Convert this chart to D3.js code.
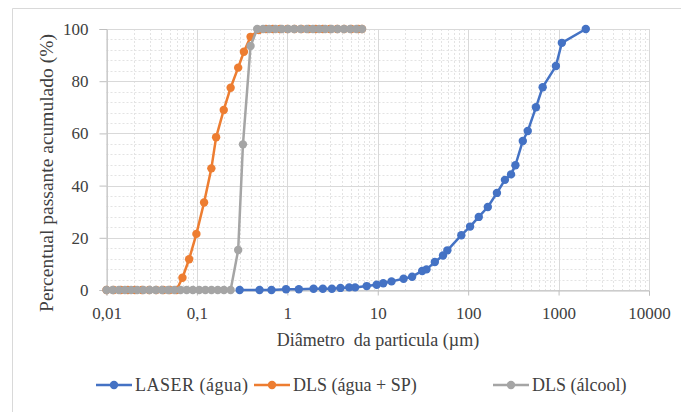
<!DOCTYPE html>
<html><head><meta charset="utf-8">
<script src="https://cdn.jsdelivr.net/npm/d3@7/dist/d3.min.js"></script>
<style>body{margin:0;background:#fff;}</style></head>
<body><svg id="c" width="681" height="412"></svg>
<script>
// LASER (água)
const laserX = [0.297,0.493,0.668,0.968,1.34,1.95,2.47,3.11,3.87,4.83,5.62,7.55,9.73,11.5,14.2,19.3,24.0,31.0,34.6,42.8,52.7,58.9,84.0,105,131,165,208,255,298,333,402,456,562,667,934,1087,2000];
const laserY = [0,0,0,0.3,0.3,0.5,0.5,0.5,0.8,1.0,1.0,1.5,2.0,2.6,3.3,4.3,5.1,7.3,7.9,10.7,13.2,15.2,21.0,24.3,28.0,31.8,37.2,42.2,44.3,47.8,57.1,60.9,70.0,77.7,85.8,94.7,100];
// DLS (água + SP)
const dlsSpX = [0.0100,0.0120,0.0144,0.0172,0.0206,0.0247,0.0296,0.0355,0.0425,0.0500,0.0594,0.0692,0.082,0.0987,0.120,0.1445,0.163,0.198,0.236,0.286,0.331,0.392,0.484,0.58,0.69,0.83,1.0,1.2,1.43,1.72,2.06,2.47,2.96,3.55,4.25,5.1,6.1,6.7];
const dlsSpY = [0,0,0,0,0,0,0,0,0,0,0,4.7,11.8,21.5,33.5,46.6,58.5,69.0,77.5,85.2,91.3,97.0,99.6,100,100,100,100,100,100,100,100,100,100,100,100,100,100,100];
// DLS (álcool)
const dlsAlcX = [0.0100,0.0117,0.0137,0.0160,0.0187,0.0219,0.0256,0.0300,0.0351,0.0411,0.0481,0.0563,0.0659,0.0771,0.0902,0.106,0.124,0.145,0.170,0.199,0.236,0.286,0.323,0.392,0.464,0.54,0.63,0.74,0.87,1.02,1.19,1.40,1.64,1.92,2.25,2.63,3.08,3.61,4.23,4.95,5.80,6.70];
const dlsAlcY = [0,0,0,0,0,0,0,0,0,0,0,0,0,0,0,0,0,0,0,0,0,15.3,55.8,93.5,100,100,100,100,100,100,100,100,100,100,100,100,100,100,100,100,100,100];

const xTicks = [0.01,0.1,1,10,100,1000,10000];
const xTickLabels = ["0,01","0,1","1","10","100","1000","10000"];
const yTicks = [0,20,40,60,80,100];

const seriesNames = ["LASER (água)","DLS (água + SP)","DLS (álcool)"];
const seriesColors = ["#4472C4","#ED7D31","#A5A5A5"];

const FONT = '"Liberation Serif"';
const TXT = "#404040";
const svg = d3.select("#c");
// outer frame
svg.append("path").attr("d","M12.5,412 V8.5 H681").attr("fill","none").attr("stroke","#d9d9d9").attr("stroke-width",1);

const L=106.5, R=649, T=29, B=290;
const x = d3.scaleLog().domain([0.01,10000]).range([L,R]);
const y = d3.scaleLinear().domain([0,100]).range([B,T]);

const g = svg.append("g");
// minor vertical grid
const minorX = [];
for (let d=0.01; d<10000; d*=10) for (let k=2;k<=9;k++) minorX.push(d*k);
g.selectAll(".mvx").data(minorX).enter().append("line")
 .attr("x1",d=>Math.round(x(d))+0.5).attr("x2",d=>Math.round(x(d))+0.5).attr("y1",T).attr("y2",B)
 .attr("stroke","#e3e3e3").attr("stroke-dasharray","2,2").attr("stroke-width",1);
// minor horizontal grid
const minorY = d3.range(0,100,4).filter(v=>v%20!==0);
g.selectAll(".mhy").data(minorY).enter().append("line")
 .attr("x1",L).attr("x2",R).attr("y1",d=>Math.round(y(d))+0.5).attr("y2",d=>Math.round(y(d))+0.5)
 .attr("stroke","#e3e3e3").attr("stroke-dasharray","2,2").attr("stroke-width",1);
// major grid
g.selectAll(".gx").data(xTicks).enter().append("line")
 .attr("x1",d=>Math.round(x(d))+0.5).attr("x2",d=>Math.round(x(d))+0.5).attr("y1",T).attr("y2",B)
 .attr("stroke","#d9d9d9");
g.selectAll(".gy").data(yTicks).enter().append("line")
 .attr("x1",L).attr("x2",R).attr("y1",d=>Math.round(y(d))+0.5).attr("y2",d=>Math.round(y(d))+0.5)
 .attr("stroke","#d9d9d9");

// axes
const xAxis = d3.axisBottom(x).tickValues(xTicks).tickFormat((d,i)=>xTickLabels[i]).tickSize(5).tickPadding(11);
const ax = svg.append("g").attr("transform",`translate(0,${B+0.5})`).call(xAxis);
ax.select(".domain").attr("stroke","#bfbfbf");
ax.selectAll(".tick line").attr("stroke","#bfbfbf");
ax.selectAll("text").style("font-family",FONT).attr("font-size",17).attr("fill",TXT);
const yAxis = d3.axisLeft(y).tickValues(yTicks).tickSize(7).tickPadding(11);
const ay = svg.append("g").attr("transform",`translate(${L},0)`).call(yAxis);
ay.select(".domain").attr("stroke","#bfbfbf");
ay.selectAll(".tick line").attr("stroke","#bfbfbf");
ay.selectAll("text").style("font-family",FONT).attr("font-size",17).attr("fill",TXT);

// series
const series = [
  {x:laserX,y:laserY},
  {x:dlsSpX,y:dlsSpY},
  {x:dlsAlcX,y:dlsAlcY}
];
const line = d3.line().x(d=>x(d[0])).y(d=>y(d[1]));
series.forEach((s,i)=>{
  const pts = s.x.map((v,j)=>[v,s.y[j]]);
  const sg = svg.append("g");
  sg.append("path").datum(pts).attr("d",line).attr("fill","none").attr("stroke",seriesColors[i]).attr("stroke-width",2.5).attr("stroke-linejoin","round");
  sg.selectAll("circle").data(pts).enter().append("circle")
    .attr("cx",d=>x(d[0])).attr("cy",d=>y(d[1])).attr("r",4.2).attr("fill",seriesColors[i]);
});

// axis titles
svg.append("text").attr("x",378).attr("y",346).attr("text-anchor","middle").attr("font-size",18).attr("fill",TXT)
 .style("font-family",FONT).style("white-space","pre").text("Diâmetro  da particula (µm)");
svg.append("text").attr("transform","translate(53,173) rotate(-90)").attr("text-anchor","middle").attr("font-size",19.5).attr("fill",TXT)
 .style("font-family",FONT).text("Percentual passante acumulado (%)");

// legend
const legX = [96,254,493];
seriesNames.forEach((n,i)=>{
  const lg = svg.append("g").attr("transform",`translate(${legX[i]},385)`);
  lg.append("line").attr("x1",0).attr("x2",36).attr("y1",0).attr("y2",0).attr("stroke",seriesColors[i]).attr("stroke-width",2.5);
  lg.append("circle").attr("cx",18).attr("cy",0).attr("r",4.2).attr("fill",seriesColors[i]);
  lg.append("text").attr("x",39).attr("y",6).attr("font-size",18).attr("fill",TXT)
    .style("font-family",FONT).style("letter-spacing",i===0?"0.5px":"0px").text(n);
});
</script></body></html>
